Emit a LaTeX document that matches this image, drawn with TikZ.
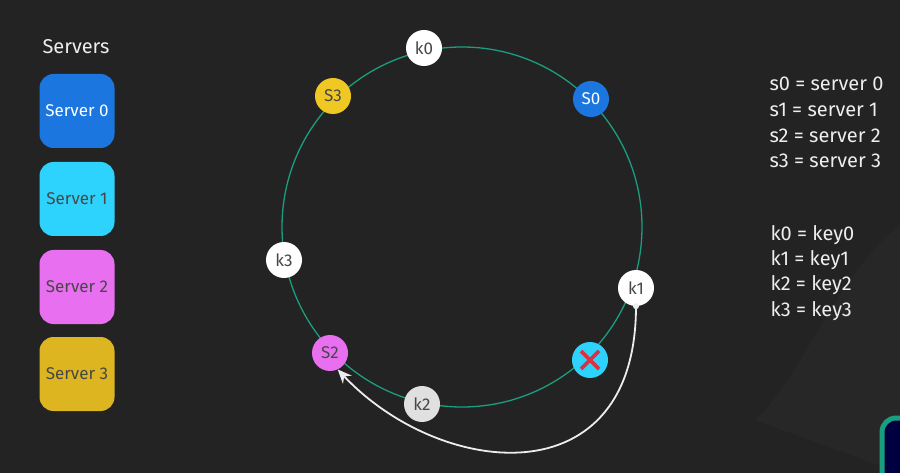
\documentclass[tikz,border=0pt]{standalone}
\usepackage{fontspec}
\setmainfont{Fira Sans}
\usetikzlibrary{arrows.meta}

\definecolor{bg}{HTML}{232323}
\definecolor{bgband}{HTML}{272727}
\definecolor{ring}{HTML}{1A9E80}
\definecolor{cblue}{HTML}{1B76E0}
\definecolor{ccyan}{HTML}{2DD3FC}
\definecolor{cpink}{HTML}{E870F0}
\definecolor{cgold}{HTML}{DDB521}
\definecolor{cyellow}{HTML}{F0C824}
\definecolor{cred}{HTML}{D93341}
\definecolor{dtext}{HTML}{474747}
\definecolor{ltext}{HTML}{EDEDED}

\begin{document}
\begin{tikzpicture}[
  x=1pt, y=-1pt,
  sbox/.style={rounded corners=14pt,minimum width=75pt,minimum height=74pt,inner sep=0pt,
    font=\fontsize{17}{19}\selectfont},
  rnode/.style={circle,minimum size=36pt,inner sep=0pt,font=\fontsize{17}{19}\selectfont},
  legend/.style={anchor=west,text=ltext,font=\fontsize{20}{22}\selectfont}
]
  \useasboundingbox (0,0) rectangle (900,473);
  \fill[bg] (0,0) rectangle (900,473);
  \fill[bgband] (900,225) .. controls (840,270) and (800,380) .. (755,420) -- (900,473) -- cycle;

  % servers
  \node[text=ltext,font=\fontsize{20}{22}\selectfont] (title) at (76,47) {Servers};
  \node[sbox,fill=cblue,text=white] (srv0) at (77,111) {Server 0};
  \node[sbox,fill=ccyan,text=dtext] (srv1) at (77,199) {Server 1};
  \node[sbox,fill=cpink,text=dtext] (srv2) at (77,287) {Server 2};
  \node[sbox,fill=cgold,text=dtext] (srv3) at (77,374) {Server 3};

  % ring
  \coordinate (c) at (462,227);
  \draw[ring,line width=1.3pt] (c) circle[radius=180];

  % nodes on the ring
  \node[rnode,fill=white,text=dtext] (k0) at (424,48) {k0};
  \node[rnode,fill=cyellow,text=dtext] (s3) at (333,96) {S3};
  \node[rnode,fill=cblue,text=white] (s0) at (591,99) {S0};
  \node[rnode,fill=white,text=dtext] (k3) at (284,260) {k3};
  \node[rnode,fill=white,text=dtext] (k1) at (636,288) {k1};
  \node[rnode,fill=cpink,text=dtext] (s2) at (330,353) {S2};
  \node[rnode,fill=ccyan] (s1) at (590,360) {};
  \node[rnode,fill=white!88!black,text=dtext] (k2) at (422,404) {k2};

  % failed server
  \draw[cred,line width=3.8pt] ([shift={(-9,-9)}]s1.center) -- ([shift={(9,9)}]s1.center);
  \draw[cred,line width=3.8pt] ([shift={(9,-9)}]s1.center) -- ([shift={(-9,9)}]s1.center);

  % remapped key
  \fill[ltext] (k1.south) circle[radius=3];
  \draw[ltext,line width=1.8pt,-{Stealth[length=14pt,width=12pt]}]
    (k1.south) .. controls (636,500) and (440,478) .. (s2.-65);

  % legend
  \node[legend] (l0) at (766,84) {s0 = server 0};
  \node[legend] (l1) at (766,110) {s1 = server 1};
  \node[legend] (l2) at (766,136) {s2 = server 2};
  \node[legend] (l3) at (766,161) {s3 = server 3};
  \node[legend] (m0) at (767,235) {k0 = key0};
  \node[legend] (m1) at (767,260) {k1 = key1};
  \node[legend] (m2) at (767,285) {k2 = key2};
  \node[legend] (m3) at (767,311) {k3 = key3};

  % camera frame
  \begin{scope}
    \clip (0,0) rectangle (900,473);
    \draw[ring,fill=black!75!blue,line width=5pt,rounded corners=14pt] (882,418) rectangle (940,520);
  \end{scope}
\end{tikzpicture}
\end{document}
